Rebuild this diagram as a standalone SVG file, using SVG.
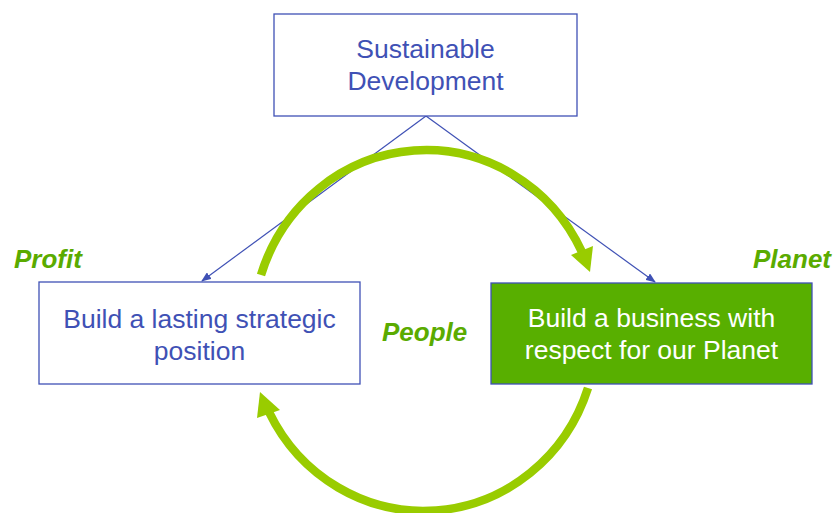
<svg xmlns="http://www.w3.org/2000/svg" width="838" height="513" viewBox="0 0 838 513">
<style>
.box{fill:#fff;stroke:#3f51b5;stroke-width:1.3}
.t{font-family:"Liberation Sans",Arial,sans-serif;font-size:26.5px;fill:#3f51b5;text-anchor:middle}
.w{fill:#fff}
.lab{font-family:"Liberation Sans",Arial,sans-serif;font-size:26px;font-weight:bold;font-style:italic;fill:#5aab00}
.conn{stroke:#3f51b5;stroke-width:1.2;fill:none}
.arc{stroke:#99cc00;stroke-width:8.5;fill:none}
</style>
<defs>
<marker id="ah" markerWidth="10" markerHeight="8" refX="9" refY="4" orient="auto" markerUnits="userSpaceOnUse">
<path d="M0,0 L10,4 L0,8 Z" fill="#3f51b5"/>
</marker>
</defs>
<g id="connectors">
<line class="conn" x1="426" y1="116" x2="202" y2="281" marker-end="url(#ah)"/>
<line class="conn" x1="426" y1="116" x2="655" y2="282" marker-end="url(#ah)"/>
<path class="arc" d="M261 275 A173 179 0 0 1 582 252"/>
<polygon points="571,255 593,246 590,272" fill="#99cc00"/>
<path class="arc" d="M588 388 A173 179 0 0 1 269 412"/>
<polygon points="257,418 280,410 260,392" fill="#99cc00"/>
</g>
<g id="sustainable">
<rect class="box" x="274" y="14" width="303" height="102"/>
<text class="t" x="425.5" y="58">Sustainable</text>
<text class="t" x="425.5" y="90">Development</text>
</g>
<g id="profit-box">
<rect class="box" x="39" y="282" width="321" height="102"/>
<text class="t" x="199.5" y="328">Build a lasting strategic</text>
<text class="t" x="199.5" y="360">position</text>
</g>
<g id="planet-box">
<rect x="491" y="283" width="321" height="101" fill="#58af00" stroke="#3f51b5" stroke-width="1.3"/>
<text class="t w" x="651.5" y="327">Build a business with</text>
<text class="t w" x="651.5" y="359">respect for our Planet</text>
</g>
<g id="labels">
<text class="lab" x="14" y="268">Profit</text>
<text class="lab" x="753" y="268">Planet</text>
<text class="lab" x="382" y="341">People</text>
</g>
</svg>
